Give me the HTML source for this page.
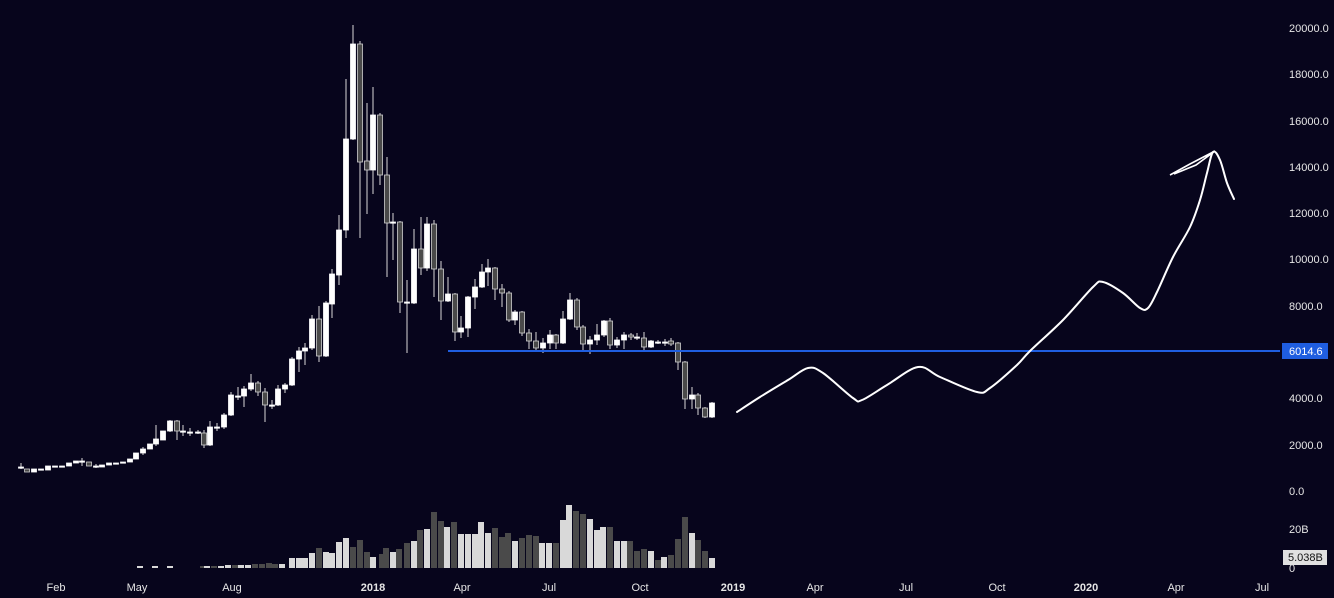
<!DOCTYPE html>
<html><head><meta charset="utf-8"><style>
html,body{margin:0;padding:0;background:#07051c;}
svg{display:block;}
text{font-family:"Liberation Sans",sans-serif;font-size:11px;fill:#e6e6e6;}
</style></head><body>
<svg id="s" width="1334" height="598" xmlns="http://www.w3.org/2000/svg">
<rect width="1334" height="598" fill="#07051c"/>
<g id="vol"></g>
<g id="cd"></g>
<line x1="448" y1="351" x2="1280" y2="351" stroke="#1f5ee0" stroke-width="2"/>
<path id="curve" fill="none" stroke="#fff" stroke-width="2" stroke-linejoin="round" stroke-linecap="round" d=""/>
<polyline fill="none" stroke="#fff" stroke-width="1.6" points="1170,175 1190,164 1215,151 1196,165 1174,174"/>
<g id="ax"></g>
<rect x="1282" y="343" width="46" height="16" fill="#1f5ee0"/>
<text x="1289" y="355" style="fill:#fff">6014.6</text>
<rect x="1283" y="550" width="44" height="15" fill="#e0e0e0"/>
<text x="1288" y="561" style="fill:#111">5.038B</text>
</svg>
<script>
var NS="http://www.w3.org/2000/svg";
function el(p,t,a){var e=document.createElementNS(NS,t);for(var k in a)e.setAttribute(k,a[k]);document.getElementById(p).appendChild(e);return e;}
var C=[
[21,467,468,'w',463,469],[27,469,472,'g'],[34,469,472,'w'],[41,469,470,'w'],[48,466,470,'w'],[55,466,467,'w'],[62,466,467,'w'],[69,463,466,'w'],[76,461,463,'w'],[82,461,462,'w',458,466],[89,462,466,'g'],[96,466,467,'w',464,468],[102,465,467,'w'],[109,463,465,'w'],[116,463,464,'w'],[123,462,463,'w'],[130,459,462,'w'],[136,453,459,'w'],[143,449,453,'w',447,455],[150,444,449,'w'],[156,439,444,'w',425,446],[163,431,440,'w'],[170,421,431,'w',420,432],[177,421,431,'g',420,440],[183,431,432,'w',425,436],[190,432,433,'w',428,436],[198,432,433,'w',430,434],[204,433,445,'g',430,448],[210,427,445,'w',421,446],[217,427,428,'w',423,431],[224,415,427,'w',413,429],[231,395,415,'w',392,416],[238,396,397,'w',387,400],[244,389,396,'w',386,407],[251,383,389,'w',374,391],[258,383,392,'g',381,396],[265,392,405,'g',388,422],[272,405,406,'w',400,409],[278,389,405,'w',385,406],[285,385,389,'w',383,393],[292,359,385,'w',357,386],[299,351,359,'w',347,372],[305,348,351,'w',343,365],[312,319,348,'w',315,350],[319,319,356,'g',306,362],[326,303,356,'w',301,357],[332,274,304,'w',269,318],[339,230,275,'w',215,285],[346,139,230,'w',79,238],[353,44,139,'w',25,140],[360,44,162,'g',41,238],[367,161,170,'g',103,214],[373,115,170,'w',87,194],[380,115,175,'g',113,185],[387,175,223,'g',157,277],
[393,222,223,'w',213,260],[400,222,302,'g',221,313],[407,302,303,'w',280,353],[414,249,303,'w',229,304],[421,249,268,'g',217,275],[427,224,268,'w',217,271],[434,224,269,'g',220,297],[441,269,301,'g',261,320],[448,294,301,'w',277,302],[455,294,332,'g',293,341],[461,328,332,'w',316,338],[468,297,328,'w',296,337],[475,287,297,'w',279,309],[482,272,287,'w',264,288],[488,268,272,'w',259,286],[495,268,289,'g',267,300],[502,289,293,'g',284,307],[509,293,320,'g',291,322],[515,312,320,'w',310,325],[522,312,333,'g',311,336],[529,333,341,'g',329,349],[536,341,348,'g',332,352],[543,343,348,'w',338,353],[550,335,343,'w',330,349],[556,335,343,'g',334,349],[563,319,343,'w',311,344],[570,300,319,'w',293,320],[577,300,327,'g',298,330],[583,327,344,'g',325,350],[590,340,344,'w',336,354],[597,335,340,'w',324,345],[604,321,335,'w',320,337],[610,321,345,'g',318,349],[617,340,345,'w',337,348],[624,335,340,'w',332,349],[631,335,337,'g',333,340],[637,337,338,'w',333,340],[644,338,347,'g',332,351],[651,341,347,'w',340,348],[658,342,343,'w',340,344],[665,342,343,'w',339,346],[671,341,344,'g',338,346],[678,343,362,'g',342,370],[685,362,399,'g',361,409],[692,395,399,'w',387,409],[698,395,408,'g',393,415],[705,408,417,'g',407,418],[712,403,417,'w',402,418]];
C.forEach(function(c){
 var x=c[0],y1=c[1],y2=c[2],g=c[3]=='g',hi=c[4]||y1,lo=c[5]||y2;
 el('cd','line',{x1:x,y1:hi,x2:x,y2:lo,stroke:'#d8d8d8','stroke-width':1});
 var h=Math.max(y2-y1,1.2);
 el('cd','rect',{x:x-2.5,y:y1,width:5,height:h,fill:g?'#4a4a4a':'#ffffff',stroke:g?'#d0d0d0':'#ffffff','stroke-width':0.8});
});
var V=[[140,567,1],[155,567,1],[170,567,1],[203,567,0],[207,566,1],[214,566,0],[221,566,1],[228,565,1],[235,565,0],[241,565,1],[248,565,1],[255,564,0],[262,564,0],[269,563,0],[275,564,0],[282,564,1],
[292,558,1],[299,558,1],[305,558,1],[312,553,1],[319,548,0],[326,552,1],[332,553,1],[339,542,1],[346,538,1],[353,547,0],[360,540,0],[367,552,0],[373,557,1],
[382,554,0],[386,548,0],[393,552,1],[399,549,0],[407,543,0],[414,541,1],[420,530,0],[427,529,1],[434,512,0],[441,521,0],[447,527,1],[454,522,0],[461,534,1],[468,534,1],[475,534,1],[481,522,1],[488,533,1],[495,528,0],[502,537,0],[508,533,0],[515,541,1],[522,538,0],[529,535,0],[536,536,0],[542,543,1],[549,543,1],[556,543,0],[563,520,1],[569,505,1],[576,511,0],[583,514,0],[590,519,1],[597,530,1],[603,527,1],[610,527,0],[617,541,1],[624,541,1],[630,541,0],[637,551,0],[644,549,0],[651,551,1],[658,560,0],[664,557,1],[671,555,0],[678,539,0],[685,517,0],[692,533,1],[698,540,0],[705,551,0],[712,558,1]];
V.forEach(function(v){var t=v[1];if(t>566)t=566;el('vol','rect',{x:v[0]-3,y:t,width:6,height:568-t,fill:v[2]?'#d9d9d9':'#4a4a4a'});});
var P=[[28,'20000.0'],[74,'18000.0'],[121,'16000.0'],[167,'14000.0'],[213,'12000.0'],[259,'10000.0'],[306,'8000.0'],[398,'4000.0'],[445,'2000.0'],[491,'0.0'],[529,'20B'],[568,'0']];
P.forEach(function(p){var t=el('ax','text',{x:1289,y:p[0]+4});t.textContent=p[1];});
var X=[[56,'Feb'],[137,'May'],[232,'Aug'],[373,'2018',1],[462,'Apr'],[549,'Jul'],[640,'Oct'],[733,'2019',1],[815,'Apr'],[906,'Jul'],[997,'Oct'],[1086,'2020',1],[1176,'Apr'],[1262,'Jul']];
X.forEach(function(p){var t=el('ax','text',{x:p[0],y:591,'text-anchor':'middle'});if(p[2])t.setAttribute('font-weight','bold');t.textContent=p[1];});
// smooth curve (Catmull-Rom)
var pts=[[737,412],[760,397],[788,380],[808,368],[823,373],[853,398],[862,400],[887,385],[918,367],[940,377],[977,392],[990,388],[1017,365],[1030,351],[1063,320],[1093,287],[1103,282],[1123,293],[1140,308],[1148,308],[1157,292],[1173,257],[1190,227],[1200,200],[1207,173],[1213,152],[1220,160],[1227,183],[1234,199]];
var d='M'+pts[0][0]+','+pts[0][1];
for(var i=0;i<pts.length-1;i++){var p0=pts[Math.max(i-1,0)],p1=pts[i],p2=pts[i+1],p3=pts[Math.min(i+2,pts.length-1)];
 var c1x=p1[0]+(p2[0]-p0[0])/6,c1y=p1[1]+(p2[1]-p0[1])/6,c2x=p2[0]-(p3[0]-p1[0])/6,c2y=p2[1]-(p3[1]-p1[1])/6;
 d+=' C'+c1x+','+c1y+' '+c2x+','+c2y+' '+p2[0]+','+p2[1];}
document.getElementById('curve').setAttribute('d',d);
</script>
</body></html>
